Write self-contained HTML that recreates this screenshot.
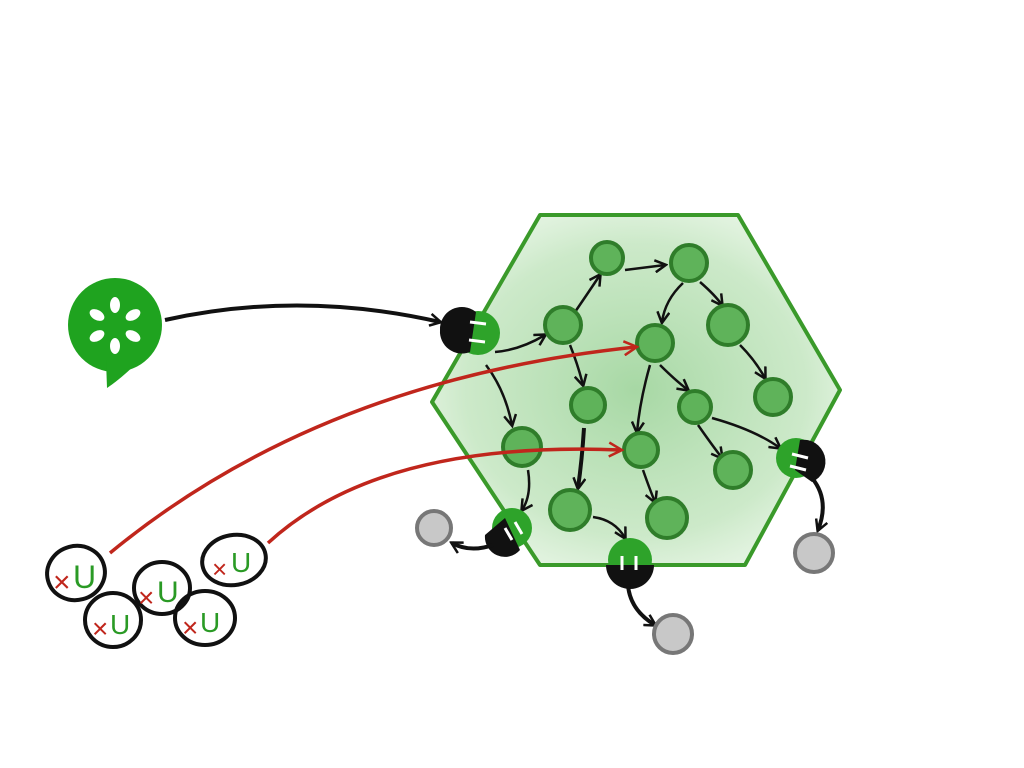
<!DOCTYPE html>
<html><head><meta charset="utf-8"><style>
html,body{margin:0;padding:0;background:#fff;width:1024px;height:768px;overflow:hidden}
svg{display:block}
text{font-family:"Liberation Sans",sans-serif;stroke:none}
</style></head><body>
<svg width="1024" height="768" viewBox="0 0 1024 768">
<defs>
<radialGradient id="hg" cx="0.5" cy="0.5" r="0.6">
<stop offset="0" stop-color="#5fb85a" stop-opacity="0.55"/>
<stop offset="0.7" stop-color="#8fcf88" stop-opacity="0.45"/>
<stop offset="1" stop-color="#b8e2b2" stop-opacity="0.3"/>
</radialGradient>
<marker id="ab" markerUnits="userSpaceOnUse" markerWidth="14" markerHeight="14" refX="11" refY="7" orient="auto"><path d="M1,1 L12,7 L1,13" fill="none" stroke="#111" stroke-width="2.5"/></marker>
<marker id="ar" markerUnits="userSpaceOnUse" markerWidth="16" markerHeight="16" refX="13" refY="8" orient="auto"><path d="M1,1 L14,8 L1,15" fill="none" stroke="#c0261c" stroke-width="2.5"/></marker>
</defs>

<g>
<circle cx="115" cy="325" r="47" fill="#1fa31f"/>
<path d="M106,360 L140,360 Q122,378 107,388 Z" fill="#1fa31f"/>
<g fill="#fff">
<ellipse cx="115" cy="305" rx="5" ry="8"/>
<ellipse cx="115" cy="346" rx="5" ry="8"/>
<ellipse cx="97" cy="315" rx="8" ry="5" transform="rotate(30 97 315)"/>
<ellipse cx="133" cy="315" rx="8" ry="5" transform="rotate(-30 133 315)"/>
<ellipse cx="97" cy="336" rx="8" ry="5" transform="rotate(-30 97 336)"/>
<ellipse cx="133" cy="336" rx="8" ry="5" transform="rotate(30 133 336)"/>
</g>
</g>
<path d="M165,320 Q300,290 440,322" fill="none" stroke="#111" stroke-width="4" marker-end="url(#ab)"/>

<g>
<polygon points="540,215 738,215 840,390 745,565 540,565 432,402" fill="url(#hg)" stroke="#3a9a2a" stroke-width="4" stroke-linejoin="round"/>
</g>

<g fill="none" stroke="#111" stroke-width="2.5" marker-end="url(#ab)">
<path d="M495,352 Q520,350 545,335"/>
<path d="M575,312 Q590,290 600,275"/>
<path d="M625,270 L665,265"/>
<path d="M683,283 Q665,300 662,322"/>
<path d="M700,282 Q715,295 722,305"/>
<path d="M740,345 Q755,360 765,378"/>
<path d="M570,345 Q578,365 583,385"/>
<path d="M486,365 Q505,390 512,425"/>
<path d="M650,365 Q640,400 637,432"/>
<path d="M660,365 Q675,380 688,390"/>
<path d="M698,425 Q712,445 722,458"/>
<path d="M712,418 Q755,430 780,448"/>
<path d="M584,428 Q582,460 578,488" stroke-width="4"/>
<path d="M643,470 Q650,490 655,502"/>
<path d="M528,470 Q532,495 522,510"/>
<path d="M593,517 Q615,520 625,538"/>
</g>

<g fill="#5fb35a" stroke="#2f7d2a" stroke-width="4">
<circle cx="607" cy="258" r="16"/>
<circle cx="689" cy="263" r="18"/>
<circle cx="563" cy="325" r="18"/>
<circle cx="655" cy="343" r="18"/>
<circle cx="728" cy="325" r="20"/>
<circle cx="773" cy="397" r="18"/>
<circle cx="588" cy="405" r="17"/>
<circle cx="695" cy="407" r="16"/>
<circle cx="522" cy="447" r="19"/>
<circle cx="641" cy="450" r="17"/>
<circle cx="733" cy="470" r="18"/>
<circle cx="570" cy="510" r="20"/>
<circle cx="667" cy="518" r="20"/>
</g>

<g fill="none" stroke="#c0261c">
<path d="M110,553 Q320,380 636,347" marker-end="url(#ar)" stroke-width="3.5"/>
<path d="M268,543 Q380,440 621,450" marker-end="url(#ar)" stroke-width="3.5"/>
</g>

<g>
<g>
<circle cx="478" cy="333" r="22" fill="#2ea32a"/>
<path d="M440,330 A22,22 0 0 1 476,312 L470,352 A22,22 0 0 1 440,330Z" fill="#111"/>
<path d="M470,322 L486,324 M469,340 L485,342" stroke="#fff" stroke-width="3"/>
</g>
<g>
<circle cx="512" cy="528" r="20" fill="#2ea32a"/>
<path d="M485,535 A20,20 0 0 0 520,550 L505,518 Z" fill="#111"/>
<path d="M505,528 L512,540 M515,522 L522,534" stroke="#fff" stroke-width="3"/>
</g>
<g>
<circle cx="630" cy="560" r="22" fill="#2ea32a"/>
<path d="M606,565 A24,24 0 0 0 654,565 Z" fill="#111"/>
<path d="M622,556 L622,570 M636,556 L636,570" stroke="#fff" stroke-width="3"/>
</g>
<g>
<circle cx="796" cy="458" r="20" fill="#2ea32a"/>
<path d="M800,440 A22,22 0 0 1 812,482 L795,470 Z" fill="#111"/>
<path d="M792,454 L808,458 M790,466 L806,470" stroke="#fff" stroke-width="3"/>
</g>
</g>

<g fill="none" stroke="#111" stroke-width="4" marker-end="url(#ab)">
<path d="M493,545 Q470,553 452,543"/>
<path d="M628,585 Q630,610 655,625"/>
<path d="M812,478 Q830,500 818,530"/>
</g>

<g fill="#c8c8c8" stroke="#777" stroke-width="4">
<circle cx="434" cy="528" r="17"/>
<circle cx="814" cy="553" r="19"/>
<circle cx="673" cy="634" r="19"/>
</g>

<g>
<g><ellipse cx="76" cy="573" rx="29" ry="27" transform="rotate(-15 76 573)" fill="none" stroke="#111" stroke-width="4"/><text x="53" y="592" font-size="30" fill="#c0261c">×</text><text x="73" y="588" font-size="32" fill="#2a9a25">U</text></g>
<g><ellipse cx="113" cy="620" rx="28" ry="27" fill="none" stroke="#111" stroke-width="4"/><text x="92" y="638" font-size="28" fill="#c0261c">×</text><text x="110" y="634" font-size="28" fill="#2a9a25">U</text></g>
<g><ellipse cx="162" cy="588" rx="28" ry="26" fill="none" stroke="#111" stroke-width="4"/><text x="138" y="607" font-size="28" fill="#c0261c">×</text><text x="157" y="602" font-size="30" fill="#2a9a25">U</text></g>
<g><ellipse cx="205" cy="618" rx="30" ry="27" fill="none" stroke="#111" stroke-width="4"/><text x="182" y="637" font-size="28" fill="#c0261c">×</text><text x="200" y="632" font-size="28" fill="#2a9a25">U</text></g>
<g><ellipse cx="234" cy="560" rx="32" ry="25" transform="rotate(-10 234 560)" fill="none" stroke="#111" stroke-width="4"/><text x="212" y="578" font-size="26" fill="#c0261c">×</text><text x="231" y="572" font-size="28" fill="#2a9a25">U</text></g>
</g>
</svg>
</body></html>
